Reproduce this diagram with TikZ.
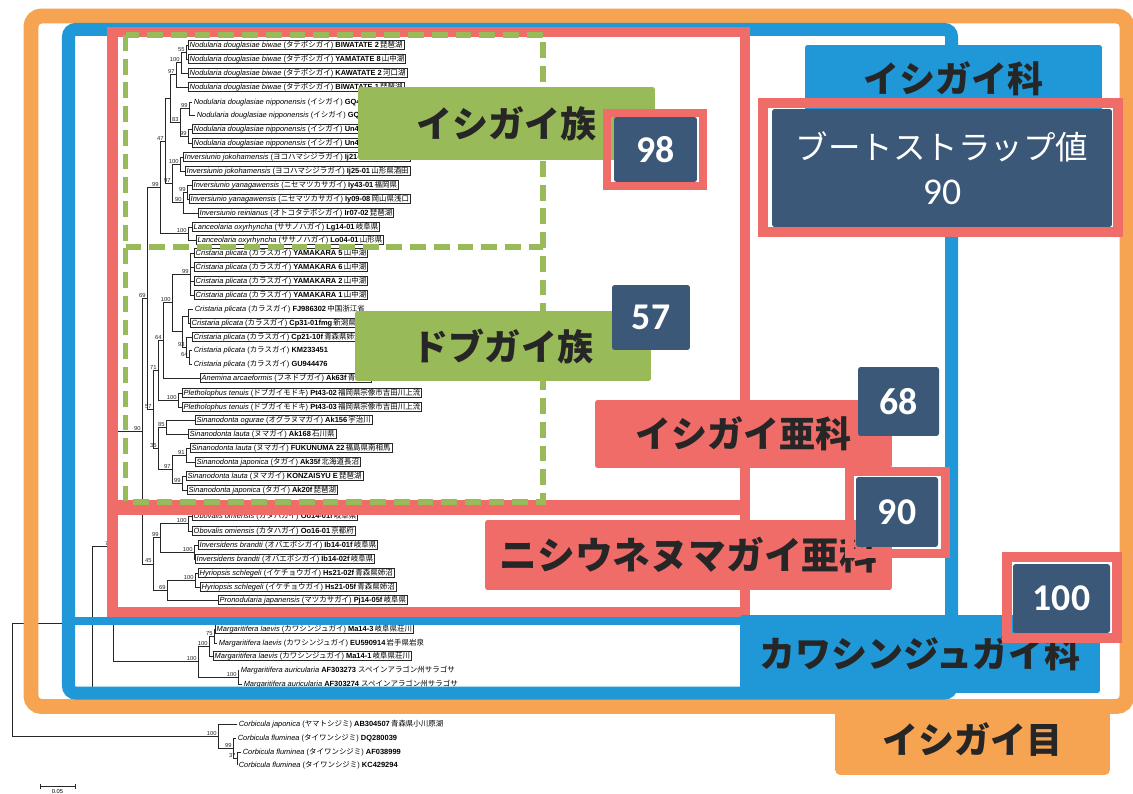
\documentclass[tikz,border=0pt]{standalone}
\usepackage{fontspec}
\setmainfont{Liberation Sans}
\newfontfamily\jp{Noto Sans CJK JP}
\newfontfamily\numf{Carlito}
\definecolor{corange}{RGB}{246,164,82}
\definecolor{cblue}{RGB}{32,152,216}
\definecolor{cred}{RGB}{240,108,104}
\definecolor{cgreen}{RGB}{152,186,88}
\definecolor{cdark}{RGB}{59,88,120}
\newcommand\lfa[4]{\textit{#1} ({\jp #2}) \textbf{#3}\,{\jp #4}}
\newcommand\lfb[3]{\textit{#1} \textbf{#2} {\jp #3}}
\newcommand\lffont{\fontsize{4.25}{4.6}\selectfont}
\newcommand\bsfont{\fontsize{3.3}{3.6}\selectfont}
\newcommand\bigjp{\jp\bfseries\fontsize{20.5}{24}\selectfont}
\newcommand\numfont{\numf\bfseries\fontsize{21.5}{24}\selectfont}
\newcounter{bsc}
\tikzset{
  trln/.style={line width=0.45pt, black!85},
  lfbox/.style={draw=black!85, line width=0.35pt, inner xsep=0.8pt, inner ysep=0.4pt, anchor=west, font=\lffont},
  lfplain/.style={inner xsep=0.8pt, inner ysep=0.4pt, anchor=west, font=\lffont},
  bsl/.style={anchor=south east, inner sep=0.3pt, font=\bsfont, black!85},
  glab/.style={fill=cgreen, rounded corners=1.5pt, inner sep=0pt, font=\bigjp, text=black!85},
  blab/.style={fill=cblue, rounded corners=1.5pt, inner sep=0pt, font=\bigjp, text=black!85},
  rlab/.style={fill=cred, rounded corners=1.5pt, inner sep=0pt, font=\bigjp, text=black!85},
  olab/.style={fill=corange, rounded corners=3pt, inner sep=0pt, font=\bigjp, text=black!85},
  nbox/.style={fill=cdark, rounded corners=1.5pt, inner sep=0pt, font=\numfont, text=white},
  rframe/.style={draw=cred, line width=5.1pt, inner sep=0pt},
  gdash/.style={cgreen, line width=3.1pt, dash pattern=on 9pt off 4.5pt},
}
\newcommand\clade[5]{\draw[trln] (#3,#2) -| (#1,#4) -- (#5,#4);}
\newcommand\bsv[3]{\stepcounter{bsc}\node[bsl] (bs\thebsc) at (#1,#2) {#3};}
\begin{document}
\begin{tikzpicture}[x=0.02cm,y=-0.02cm]
\useasboundingbox (0,0) rectangle (1133,794);
\fill[white] (0,0) rectangle (1133,794);

% ---------------- tree ----------------
\clade{186}{45}{188}{59}{188}\bsv{185.5}{52}{55}
\clade{181}{52}{186}{73}{188}\bsv{180.5}{62.5}{100}
\clade{176}{62.5}{181}{87}{188}\bsv{175.5}{74.75}{97}
\clade{189}{102}{192}{115}{195}\bsv{188.5}{108.5}{99}
\clade{188}{129}{192}{143}{192}\bsv{187.5}{136}{99}
\clade{180}{108.5}{189}{136}{188}\bsv{179.5}{122.25}{83}
\clade{170}{74.75}{176}{122.25}{180}
\clade{180}{157}{183}{171}{185}\bsv{179.5}{164}{100}
\clade{187}{185}{192}{199}{189}\bsv{186.5}{192}{99}
\clade{183}{192}{187}{213}{198}\bsv{182.5}{202.5}{90}
\clade{172}{164}{180}{202.5}{183}\bsv{171.5}{183.25}{97}
\clade{165}{98.5}{170}{183.25}{172}\bsv{164.5}{140.9}{47}
\clade{188}{227}{192}{240}{196}\bsv{187.5}{233.5}{100}
\clade{160}{140.9}{165}{233.5}{188}\bsv{159.5}{187.2}{99}
\clade{190}{253}{194}{295}{194}
\draw[trln] (190,267) -- (194,267) (190,281) -- (194,281);
\bsv{189.5}{274}{99}
\clade{188}{309}{193}{323}{190}
\clade{189}{350}{192}{364}{192}\bsv{188.5}{357}{64}
\clade{186}{337}{192}{357}{189}\bsv{185.5}{347}{93}
\clade{182}{316}{188}{347}{186}
\clade{172}{274}{190}{331.5}{182}\bsv{171.5}{302.75}{100}
\clade{163}{302.75}{172}{378}{200}\bsv{162.5}{340.4}{64}
\clade{178}{393}{182}{407}{182}\bsv{177.5}{400}{100}
\clade{158}{340.4}{163}{400}{178}\bsv{157.5}{370.2}{71}
\clade{166}{420}{195}{434}{188}\bsv{165.5}{427}{85}
\clade{186}{448}{190}{462}{195}\bsv{185.5}{455}{91}
\clade{182}{476}{186}{490}{187}\bsv{181.5}{483}{99}
\clade{172}{455}{186}{483}{182}\bsv{171.5}{469}{97}
\clade{158}{427}{166}{469}{172}\bsv{157.5}{448}{35}
\clade{153}{370.2}{158}{448}{158}\bsv{152.5}{409.1}{57}
\clade{147}{187.2}{160}{409.1}{153}\bsv{146.5}{298.2}{69}
\clade{188}{516}{192}{531}{192}\bsv{187.5}{523.5}{100}
\clade{194}{545}{198}{559}{195}\bsv{193.5}{552}{100}
\clade{160}{523.5}{188}{552}{194}\bsv{159.5}{537.75}{99}
\clade{195}{573}{198}{587}{200}\bsv{194.5}{580}{100}
\clade{167}{580}{195}{600}{218}\bsv{166.5}{590}{69}
\clade{153}{537.75}{160}{590}{167}\bsv{152.5}{563.9}{45}
\clade{142}{298.2}{147}{563.9}{153}\bsv{141.5}{431}{90}
\clade{214}{629}{215}{643}{217}\bsv{213.5}{636}{75}
\clade{209}{636}{214}{656}{213}\bsv{208.5}{646}{100}
\clade{238}{670}{239}{684}{242}\bsv{237.5}{677}{100}
\clade{198}{646}{209}{677}{238}\bsv{197.5}{661.5}{100}
\clade{113}{431}{142}{661.5}{198}\bsv{112.5}{546}{71}
\draw[trln] (113,546) -| (92,700);
\clade{237}{752}{241}{765}{237}\bsv{236.5}{758.5}{37}
\clade{233}{738}{236}{758.5}{237}\bsv{232.5}{748.25}{99}
\clade{218}{724}{237}{748.25}{233}\bsv{217.5}{736.1}{100}
\clade{12}{623}{92}{736.1}{218}
% scale bar
\draw[trln] (40,786) -- (75,786) (40,783.5) -- (40,788.5) (75,783.5) -- (75,788.5);
\node[anchor=north, inner sep=0.3pt, font=\bsfont] (scale) at (57.5,788.5) {0.05};

% ---------------- leaves ----------------
\node[lfbox] (L1) at (188,45) {\lfa{Nodularia douglasiae biwae}{タテボシガイ}{BIWATATE 2}{琵琶湖}};
\node[lfbox] (L2) at (188,59) {\lfa{Nodularia douglasiae biwae}{タテボシガイ}{YAMATATE 8}{山中湖}};
\node[lfbox] (L3) at (188,73) {\lfa{Nodularia douglasiae biwae}{タテボシガイ}{KAWATATE 2}{河口湖}};
\node[lfbox] (L4) at (188,87) {\lfa{Nodularia douglasiae biwae}{タテボシガイ}{BIWATATE 1}{琵琶湖}};
\node[lfplain] (L5) at (192,102) {\lfa{Nodularia douglasiae nipponensis}{イシガイ}{GQ451851}{}};
\node[lfplain] (L6) at (195,115) {\lfa{Nodularia douglasiae nipponensis}{イシガイ}{GQ451850}{}};
\node[lfbox] (L7) at (192,129) {\lfa{Nodularia douglasiae nipponensis}{イシガイ}{Un43-06f}{福岡県}};
\node[lfbox] (L8) at (192,143) {\lfa{Nodularia douglasiae nipponensis}{イシガイ}{Un40-01}{福岡県}};
\node[lfbox] (L9) at (183,157) {\lfa{Inversiunio jokohamensis}{ヨコハマシジラガイ}{Ij21-20f}{青森県姉沼}};
\node[lfbox] (L10) at (185,171) {\lfa{Inversiunio jokohamensis}{ヨコハマシジラガイ}{Ij25-01}{山形県酒田}};
\node[lfbox] (L11) at (192,185) {\lfa{Inversiunio yanagawensis}{ニセマツカサガイ}{Iy43-01}{福岡県}};
\node[lfbox] (L12) at (189,199) {\lfa{Inversiunio yanagawensis}{ニセマツカサガイ}{Iy09-08}{岡山県浅口}};
\node[lfbox] (L13) at (198,213) {\lfa{Inversiunio reinianus}{オトコタテボシガイ}{Ir07-02}{琵琶湖}};
\node[lfbox] (L14) at (192,227) {\lfa{Lanceolaria oxyrhyncha}{ササノハガイ}{Lg14-01}{岐阜県}};
\node[lfbox] (L15) at (196,240) {\lfa{Lanceolaria oxyrhyncha}{ササノハガイ}{Lo04-01}{山形県}};
\node[lfbox] (L16) at (194,253) {\lfa{Cristaria plicata}{カラスガイ}{YAMAKARA 5}{山中湖}};
\node[lfbox] (L17) at (194,267) {\lfa{Cristaria plicata}{カラスガイ}{YAMAKARA 6}{山中湖}};
\node[lfbox] (L18) at (194,281) {\lfa{Cristaria plicata}{カラスガイ}{YAMAKARA 2}{山中湖}};
\node[lfbox] (L19) at (194,295) {\lfa{Cristaria plicata}{カラスガイ}{YAMAKARA 1}{山中湖}};
\node[lfplain] (L20) at (193,309) {\lfa{Cristaria plicata}{カラスガイ}{FJ986302}{中国浙江省}};
\node[lfbox] (L21) at (190,323) {\lfa{Cristaria plicata}{カラスガイ}{Cp31-01fmg}{新潟県上越}};
\node[lfbox] (L22) at (192,337) {\lfa{Cristaria plicata}{カラスガイ}{Cp21-10f}{青森県姉沼}};
\node[lfplain] (L23) at (192,350) {\lfa{Cristaria plicata}{カラスガイ}{KM233451}{}};
\node[lfplain] (L24) at (192,364) {\lfa{Cristaria plicata}{カラスガイ}{GU944476}{}};
\node[lfbox] (L25) at (200,378) {\lfa{Anemina arcaeformis}{フネドブガイ}{Ak63f}{青森県}};
\node[lfbox] (L26) at (182,393) {\lfa{Pletholophus tenuis}{ドブガイモドキ}{Pt43-02}{福岡県宗像市吉田川上流}};
\node[lfbox] (L27) at (182,407) {\lfa{Pletholophus tenuis}{ドブガイモドキ}{Pt43-03}{福岡県宗像市吉田川上流}};
\node[lfbox] (L28) at (195,420) {\lfa{Sinanodonta ogurae}{オグラヌマガイ}{Ak156}{宇治川}};
\node[lfbox] (L29) at (188,434) {\lfa{Sinanodonta lauta}{ヌマガイ}{Ak168}{石川県}};
\node[lfbox] (L30) at (190,448) {\lfa{Sinanodonta lauta}{ヌマガイ}{FUKUNUMA 22}{福島県南相馬}};
\node[lfbox] (L31) at (195,462) {\lfa{Sinanodonta japonica}{タガイ}{Ak35f}{北海道長沼}};
\node[lfbox] (L32) at (186,476) {\lfa{Sinanodonta lauta}{ヌマガイ}{KONZAISYU E}{琵琶湖}};
\node[lfbox] (L33) at (187,490) {\lfa{Sinanodonta japonica}{タガイ}{Ak20f}{琵琶湖}};
\node[lfbox] (L35) at (192,516) {\lfa{Obovalis omiensis}{カタハガイ}{Oo14-01f}{岐阜県}};
\node[lfbox] (L36) at (192,531) {\lfa{Obovalis omiensis}{カタハガイ}{Oo16-01}{京都府}};
\node[lfbox] (L37) at (198,545) {\lfa{Inversidens brandti}{オバエボシガイ}{Ib14-01f}{岐阜県}};
\node[lfbox] (L38) at (195,559) {\lfa{Inversidens brandti}{オバエボシガイ}{Ib14-02f}{岐阜県}};
\node[lfbox] (L39) at (198,573) {\lfa{Hyriopsis schlegeli}{イケチョウガイ}{Hs21-02f}{青森県姉沼}};
\node[lfbox] (L40) at (200,587) {\lfa{Hyriopsis schlegeli}{イケチョウガイ}{Hs21-05f}{青森県姉沼}};
\node[lfbox] (L41) at (218,600) {\lfa{Pronodularia japanensis}{マツカサガイ}{Pj14-05f}{岐阜県}};
\node[lfbox] (L42) at (215,629) {\lfa{Margaritifera laevis}{カワシンジュガイ}{Ma14-3}{岐阜県荘川}};
\node[lfplain] (L43) at (217,643) {\lfa{Margaritifera laevis}{カワシンジュガイ}{EU590914}{岩手県岩泉}};
\node[lfbox] (L44) at (213,656) {\lfa{Margaritifera laevis}{カワシンジュガイ}{Ma14-1}{岐阜県荘川}};
\node[lfplain] (L45) at (239,670) {\lfb{Margaritifera auricularia}{AF303273}{スペインアラゴン州サラゴサ}};
\node[lfplain] (L46) at (242,684) {\lfb{Margaritifera auricularia}{AF303274}{スペインアラゴン州サラゴサ}};
\node[lfplain] (L47) at (237,724) {\lfa{Corbicula japonica}{ヤマトシジミ}{AB304507}{青森県小川原湖}};
\node[lfplain] (L48) at (236,738) {\lfa{Corbicula fluminea}{タイワンシジミ}{DQ280039}{}};
\node[lfplain] (L49) at (241,752) {\lfa{Corbicula fluminea}{タイワンシジミ}{AF038999}{}};
\node[lfplain] (L50) at (237,765) {\lfa{Corbicula fluminea}{タイワンシジミ}{KC429294}{}};

% ---------------- frames ----------------
\draw[corange, line width=8.5pt, rounded corners=6pt] (31,16) rectangle (1127,706.5);
\draw[cblue, line width=7.4pt, rounded corners=4pt] (68.5,29.5) rectangle (951.5,693);
\draw[cblue, line width=4.5pt] (68.5,621) -- (951.5,621);
\draw[cred, line width=5.7pt] (112.5,32) rectangle (745,505);
\draw[cred, line width=5.7pt] (112.5,510) rectangle (745,612);
\draw[gdash] (125.5,35) rectangle (543,502);
\draw[gdash] (125.5,247) -- (543,247);

% ---------------- labels ----------------
\node[glab, minimum width=5.94cm, minimum height=1.46cm] (tribeA) at (506.5,123.5) {イシガイ族};
\node[glab, minimum width=5.92cm, minimum height=1.40cm] (tribeB) at (503,346) {ドブガイ族};
\node[blab, minimum width=5.94cm, minimum height=1.34cm] (famA) at (953.5,78.5) {イシガイ科};
\node[rlab, minimum width=5.94cm, minimum height=1.36cm] (subA) at (743.5,434) {イシガイ亜科};
\node[rlab, minimum width=8.14cm, minimum height=1.40cm, font=\jp\bfseries\fontsize{21.5}{24}\selectfont] (subB) at (688.5,555) {ニシウネヌマガイ亜科};
\node[blab, minimum width=7.2cm, minimum height=1.56cm] (famB) at (920,654) {カワシンジュガイ科};
\node[olab, minimum width=5.5cm, minimum height=1.4cm] (order) at (972.5,740) {イシガイ目};

% ---------------- bootstrap boxes ----------------
\node[rframe, minimum width=1.92cm, minimum height=1.46cm] (r98) at (655,149.5) {};
\node[nbox, minimum width=1.66cm, minimum height=1.30cm] (n98) at (655.5,149.5) {98};
\node[nbox, minimum width=1.56cm, minimum height=1.30cm] (n57) at (651,317.5) {57};
\node[rframe, line width=5.7pt, minimum width=7.10cm, minimum height=2.58cm] (rleg) at (940.5,167.5) {};
\node[nbox, minimum width=6.80cm, minimum height=2.36cm, align=center, font=\jp\fontsize{18.5}{25.5}\selectfont] (nleg) at (942,168) {ブートストラップ値\\{\numf\fontsize{21.5}{25.5}\selectfont 90}};
\node[nbox, minimum width=1.62cm, minimum height=1.38cm] (n68) at (898.5,401.5) {68};
\node[rframe, minimum width=1.92cm, minimum height=1.64cm] (r90) at (897.5,512.5) {};
\node[nbox, minimum width=1.64cm, minimum height=1.40cm] (n90) at (897,512) {90};
\node[rframe, line width=5.7pt, minimum width=2.2cm, minimum height=1.62cm] (r100) at (1062,597.5) {};
\node[nbox, minimum width=1.94cm, minimum height=1.38cm] (n100) at (1061.5,598.5) {100};
\end{tikzpicture}
\end{document}
